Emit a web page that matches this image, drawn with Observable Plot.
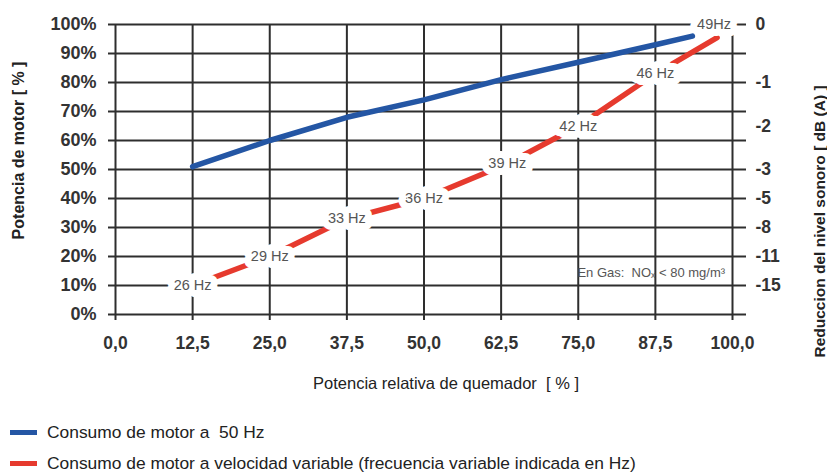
<!DOCTYPE html>
<html>
<head>
<meta charset="utf-8">
<script src="https://cdn.jsdelivr.net/npm/d3@7"></script>
<script src="https://cdn.jsdelivr.net/npm/@observablehq/plot@0.6"></script>
<style>
  html, body { margin: 0; padding: 0; background: #fff; }
  #chart { width: 827px; }
  .legend { font-family: "Liberation Sans", Arial, sans-serif; font-size: 17.4px; color: #222; padding-left: 10px; }
  .legend .row { height: 31px; line-height: 31px; display: flex; align-items: center; }
  .legend .sw { display: inline-block; width: 27px; height: 5px; margin-right: 10px; }
</style>
</head>
<body>
<div id="chart"></div>
<script>
// X: relative burner power [%]
const xTicks = [0, 12.5, 25, 37.5, 50, 62.5, 75, 87.5, 100];
// Y: motor power [%]
const yTicks = [0, 10, 20, 30, 40, 50, 60, 70, 80, 90, 100];

// Blue series: motor consumption at 50 Hz
const blueX = [12.5, 25, 37.5, 50, 62.5, 75, 87.5, 93.5];
const blueY = [51, 60, 68, 74, 81, 87, 93, 96];

// Red series: variable speed motor consumption
const redX = [12.5, 25, 37.5, 50, 63.5, 75, 87.5, 97.5];
const redY = [10, 20, 33, 40, 52, 65, 83, 95.5];

// Frequency labels along the red series
const freqLabels = ["26 Hz", "29 Hz", "33 Hz", "36 Hz", "39 Hz", "42 Hz", "46 Hz", "49Hz"];
const freqX = [12.5, 25, 37.5, 50, 63.5, 75, 87.5, 97];
const freqY = [10, 20, 33, 40, 52, 65, 83, 100];

// Right axis: noise reduction dB(A)
const noiseAt = [100, 80, 65, 50, 40, 30, 20, 10];
const noiseLabels = ["0", "-1", "-2", "-3", "-5", "-8", "-11", "-15"];

// Note
const noteText = ["En Gas:  NOₓ < 80 mg/m³"];
const noteX = [98.8];
const noteY = [14.5];

const blue = blueX.map((x, i) => ({x, y: blueY[i]}));
const red = redX.map((x, i) => ({x, y: redY[i]}));
const freq = freqLabels.map((t, i) => ({x: freqX[i], y: freqY[i], t}));
const note = noteText.map((t, i) => ({x: noteX[i], y: noteY[i], t}));
const noiseMap = new Map(noiseAt.map((v, i) => [v, noiseLabels[i]]));

const gridColor = "#2e2e2e";
const font = "'Liberation Sans', Arial, sans-serif";

const chart = Plot.plot({
  width: 827,
  height: 417,
  marginTop: 24,
  marginBottom: 103,
  marginLeft: 115,
  marginRight: 95,
  style: {fontFamily: font, background: "#fff", overflow: "visible"},
  x: {domain: [0, 100], label: null},
  y: {domain: [0, 100], label: null},
  marks: [
    Plot.gridY(yTicks, {stroke: gridColor, strokeOpacity: 1, strokeWidth: 2}),
    Plot.gridX(xTicks, {stroke: gridColor, strokeOpacity: 1, strokeWidth: 2}),
    Plot.axisY(yTicks, {anchor: "left", tickSize: 7, tickPadding: 12, strokeWidth: 2, stroke: gridColor,
      tickFormat: d => d + "%", fontSize: 18, fontWeight: "bold", fill: "#333", label: null}),
    Plot.axisY(yTicks, {anchor: "right", tickSize: 13, strokeWidth: 2, stroke: gridColor, tickFormat: () => "", label: null}),
    Plot.axisY(noiseAt, {anchor: "right", tickSize: 0, tickPadding: 23, tickFormat: d => noiseMap.get(d),
      fontSize: 17.5, fontWeight: "bold", fill: "#333", label: null}),
    Plot.axisX(xTicks, {anchor: "bottom", tickSize: 6, tickPadding: 16, strokeWidth: 2, stroke: gridColor,
      tickFormat: d => d3.format(".1f")(d).replace(".", ","), fontSize: 17.5, fontWeight: "bold", fill: "#333", label: null}),
    Plot.line(blue, {x: "x", y: "y", stroke: "#2456a4", strokeWidth: 5.5}),
    Plot.line(red, {x: "x", y: "y", stroke: "#e63a2e", strokeWidth: 5.5}),
    Plot.text(freq, {x: "x", y: "y", text: "t", fill: "#555", stroke: "white", strokeWidth: 14,
      fontSize: 14.5}),
    Plot.text(note, {x: "x", y: "y", text: "t", fill: "#555", fontSize: 13, textAnchor: "end"}),
    Plot.text(["Potencia de motor [ % ]"], {frameAnchor: "left", textAnchor: "middle", lineAnchor: "middle",
      dx: -97, dy: -19, rotate: -90, fontSize: 16, fontWeight: "bold", fill: "#222"}),
    Plot.text(["Reduccion del nivel sonoro [ dB (A) ]"], {frameAnchor: "right", textAnchor: "middle", lineAnchor: "middle",
      dx: 88, dy: 52, rotate: -90, fontSize: 15.5, fontWeight: "bold", fill: "#222"}),
    Plot.text(["Potencia relativa de quemador  [ % ]"], {frameAnchor: "bottom", textAnchor: "middle", lineAnchor: "middle",
      dx: 22, dy: 69, fontSize: 16.5, fill: "#222"})
  ]
});
document.getElementById("chart").appendChild(chart);

const legend = document.createElement("div");
legend.className = "legend";
legend.innerHTML = `
  <div class="row"><span class="sw" style="background:#2456a4"></span><span>Consumo de motor a&nbsp; 50 Hz</span></div>
  <div class="row"><span class="sw" style="background:#e63a2e"></span><span>Consumo de motor a velocidad variable (frecuencia variable indicada en Hz)</span></div>`;
document.getElementById("chart").appendChild(legend);
</script>
</body>
</html>
